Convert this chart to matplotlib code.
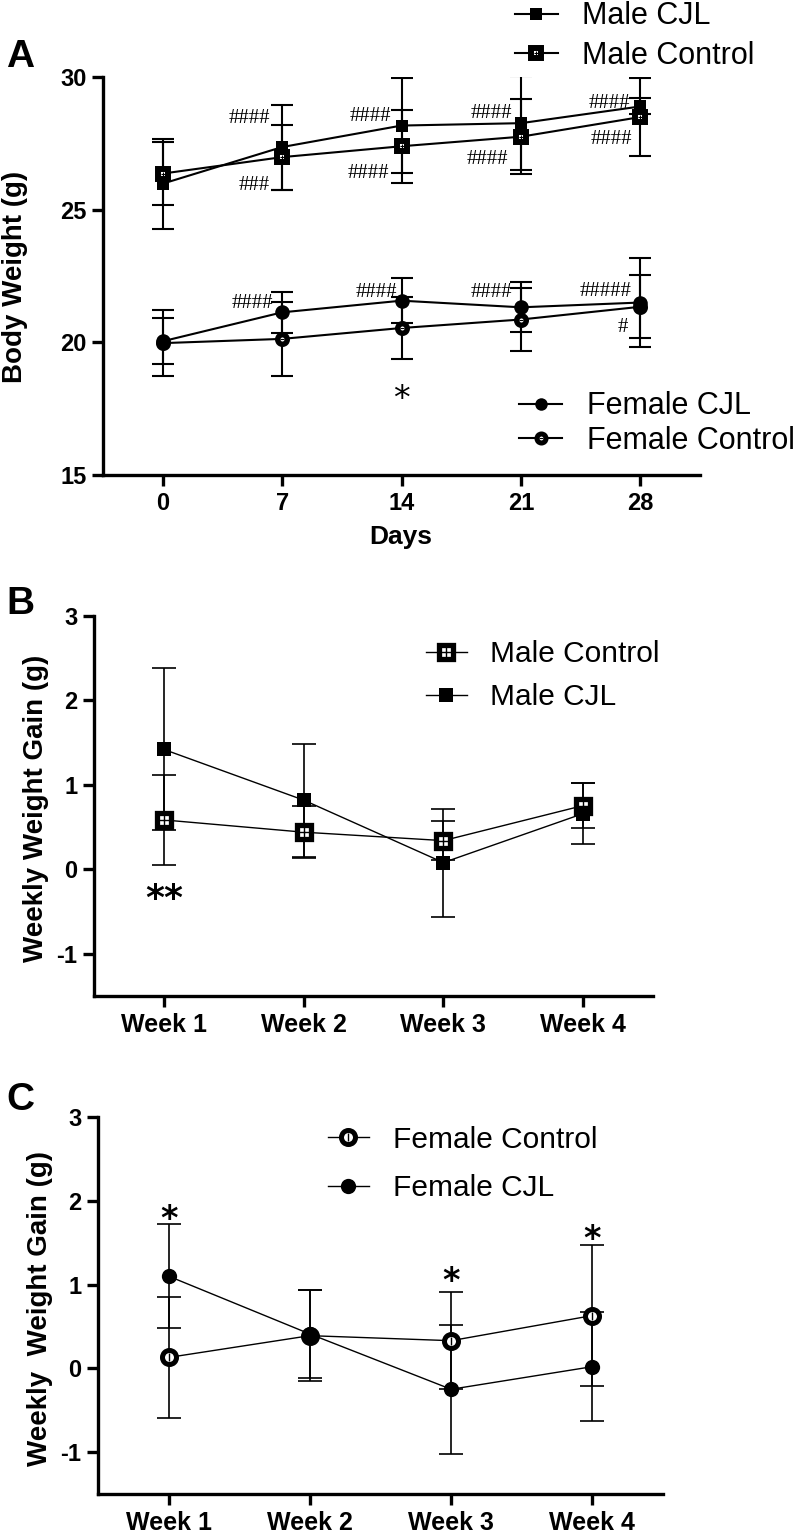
import matplotlib
matplotlib.use('Agg')
import matplotlib.pyplot as plt
from matplotlib.lines import Line2D
from matplotlib.legend_handler import HandlerTuple

plt.rcParams['font.family'] = ['Liberation Sans', 'DejaVu Sans']

W, H = 801, 1532

# ---------------- data ----------------
days = [0, 7, 14, 21, 28]
day_labels = ['0', '7', '14', '21', '28']

male_cjl = [25.98, 27.36, 28.17, 28.26, 28.89]
male_cjl_err = [1.70, 1.60, 1.79, 1.76, 0.30]
male_ctrl = [26.36, 26.98, 27.39, 27.75, 28.49]
male_ctrl_err = [1.20, 1.22, 1.37, 1.41, 1.47]
female_cjl = [20.04, 21.13, 21.57, 21.32, 21.50]
female_cjl_err = [0.86, 0.76, 0.86, 0.94, 1.68]
female_ctrl = [19.97, 20.13, 20.54, 20.86, 21.34]
female_ctrl_err = [1.25, 1.39, 1.17, 1.20, 1.18]

weeks = [1, 2, 3, 4]
week_labels = ['Week 1', 'Week 2', 'Week 3', 'Week 4']
male_ctrl_gain = [0.585, 0.44, 0.34, 0.755]
male_ctrl_gain_err = [0.53, 0.31, 0.23, 0.27]
male_cjl_gain = [1.42, 0.82, 0.08, 0.66]
male_cjl_gain_err = [0.96, 0.67, 0.64, 0.36]
female_ctrl_gain = [0.13, 0.39, 0.33, 0.63]
female_ctrl_gain_err = [0.72, 0.54, 0.58, 0.84]
female_cjl_gain = [1.10, 0.41, -0.25, 0.02]
female_cjl_gain_err = [0.62, 0.52, 0.77, 0.65]

# significance marks (x, y, text)
hash_marks_A = [(6.3, 28.55, '####'), (6.3, 26.0, '###'),
                (13.4, 28.59, '####'), (13.25, 26.47, '####'),
                (20.47, 28.74, '####'), (20.25, 26.98, '####'),
                (27.4, 29.1, '####'), (27.5, 27.73, '####'),
                (6.5, 21.57, '####'), (13.73, 21.96, '####'),
                (20.5, 21.96, '####'), (27.48, 22.0, '#####')]
single_hash_A = [(27.0, 20.67, '#')]
star_A = [(14, 18.2, '*')]
star_B = [(1, -0.22, '**')]
star_C = [(1, 1.89, '*'), (3, 1.15, '*'), (4, 1.65, '*')]

# ---------------- figure ----------------
fig = plt.figure(figsize=(W / 100, H / 100), dpi=100)


def px_axes(l, t, r, b):
    return fig.add_axes([l / W, 1 - b / H, (r - l) / W, (b - t) / H])


def style(ax):
    for s in ['top', 'right']:
        ax.spines[s].set_visible(False)
    for s in ['left', 'bottom']:
        ax.spines[s].set_linewidth(2.4)
    ax.tick_params(direction='out', length=8, width=2.4, pad=4)


def plot_series(ax, x, y, e, marker, ms, mfc, mew, lw, elw, cap, inner=None, inner_ms=0, inner_mew=0):
    ax.errorbar(x, y, yerr=e, fmt='none', ecolor='black', elinewidth=elw, capsize=cap,
                capthick=elw, zorder=2)
    ax.plot(x, y, color='black', lw=lw, marker=marker, ms=ms, mfc=mfc, mec='black',
            mew=mew, zorder=3)
    if inner is not None:
        ax.plot(x, y, linestyle='none', marker=inner, ms=inner_ms, mew=inner_mew,
                color='black', zorder=4)


def handle(marker, ms, mfc, mew, lw, inner=None, inner_ms=0, inner_mew=0):
    h = Line2D([], [], color='black', lw=lw, marker=marker, ms=ms, mfc=mfc,
               mec='black', mew=mew)
    if inner is None:
        return h
    h2 = Line2D([], [], linestyle='none', marker=inner, ms=inner_ms, mew=inner_mew,
                color='black')
    return (h, h2)


def mark(ax, x, y, txt, fs, family, weight, ha, frac):
    ax.annotate(txt, (x, y), xytext=(0, -frac * fs), textcoords='offset points',
                ha=ha, va='baseline', fontsize=fs, family=family, fontweight=weight,
                zorder=5)


# ---------------- Panel A ----------------
axA = px_axes(103, 77, 700, 475)
style(axA)
plot_series(axA, days, male_ctrl, male_ctrl_err, 's', 7.9, 'white', 4.3, 1.5, 1.5, 8,
            '+', 3.6, 0.8)
plot_series(axA, days, male_cjl, male_cjl_err, 's', 8.6, 'black', 0, 1.5, 1.5, 8)
plot_series(axA, days, female_ctrl, female_ctrl_err, 'o', 6.9, 'white', 3.9, 1.5, 1.5, 8,
            '_', 3.0, 0.8)
plot_series(axA, days, female_cjl, female_cjl_err, 'o', 10.5, 'black', 0, 1.5, 1.5, 8)
axA.set_xlim(-3.5, 31.5)
axA.set_ylim(15, 30)
axA.set_xticks(days, day_labels, fontsize=17, fontweight='bold')
axA.set_yticks([15, 20, 25, 30], ['15', '20', '25', '30'], fontsize=17, fontweight='bold')
for x, y, t in hash_marks_A:
    mark(axA, x, y, t, 15, 'Liberation Serif', 'normal', 'right', 0.34)
for x, y, t in single_hash_A:
    mark(axA, x, y, t, 15, 'Liberation Serif', 'normal', 'center', 0.34)
for x, y, t in star_A:
    mark(axA, x, y, t, 24, 'DejaVu Sans', 'normal', 'center', 0.575)

fig.text(15 / W, 1 - 277 / H, 'Body Weight (g)', rotation=90, ha='center', va='center',
         fontsize=20, fontweight='bold')
fig.text(401 / W, 1 - 537 / H, 'Days', ha='center', va='center', fontsize=19,
         fontweight='bold')
fig.text(20 / W, 1 - 57 / H, 'A', ha='center', va='center', fontsize=28, fontweight='bold')

fig.legend([handle('s', 8.6, 'black', 0, 1.5),
            handle('s', 7.9, 'white', 4.3, 1.5, '+', 3.6, 0.8)],
           ['Male CJL', 'Male Control'],
           handler_map={tuple: HandlerTuple(ndivide=1)},
           loc='center left', bbox_to_anchor=(515 / W, 1 - 36 / H),
           frameon=False, borderpad=0, borderaxespad=0, handlelength=1.4,
           handletextpad=0.8, labelspacing=0.3, fontsize=22)
fig.legend([handle('o', 9.0, 'black', 0, 1.5),
            handle('o', 6.5, 'white', 3.6, 1.5, '_', 2.6, 0.8)],
           ['Female CJL', 'Female Control'],
           handler_map={tuple: HandlerTuple(ndivide=1)},
           loc='center left', bbox_to_anchor=(519 / W, 1 - 423.5 / H),
           frameon=False, borderpad=0, borderaxespad=0, handlelength=1.42,
           handletextpad=0.8, labelspacing=0.14, fontsize=22)

# ---------------- Panel B ----------------
axB = px_axes(94, 616, 653, 996)
style(axB)
plot_series(axB, weeks, male_ctrl_gain, male_ctrl_gain_err, 's', 10.2, 'white', 3.8, 1.0, 1.2, 8.5,
            '+', 6.5, 1.0)
plot_series(axB, weeks, male_cjl_gain, male_cjl_gain_err, 's', 10, 'black', 0, 1.0, 1.2, 8.5)
axB.set_xlim(0.5, 4.5)
axB.set_ylim(-1.5, 3)
axB.set_xticks(weeks, week_labels, fontsize=18, fontweight='bold')
axB.set_yticks([-1, 0, 1, 2, 3], ['-1', '0', '1', '2', '3'], fontsize=17, fontweight='bold')
for x, y, t in star_B:
    mark(axB, x, y, t, 26, 'DejaVu Sans', 'bold', 'center', 0.575)
fig.text(36 / W, 1 - 808 / H, 'Weekly Weight Gain (g)', rotation=90, ha='center',
         va='center', fontsize=20, fontweight='bold')
fig.text(20 / W, 1 - 604 / H, 'B', ha='center', va='center', fontsize=28, fontweight='bold')
fig.legend([handle('s', 10.2, 'white', 3.8, 1.0, '+', 6.5, 1.0),
            handle('s', 10, 'black', 0, 1.0)],
           ['Male Control', 'Male CJL'],
           handler_map={tuple: HandlerTuple(ndivide=1)},
           loc='center left', bbox_to_anchor=(426 / W, 1 - 675.5 / H),
           frameon=False, borderpad=0, borderaxespad=0, handlelength=1.37,
           handletextpad=0.77, labelspacing=0.5, fontsize=21.5)

# ---------------- Panel C ----------------
axC = px_axes(98, 1117, 663, 1494)
style(axC)
plot_series(axC, weeks, female_ctrl_gain, female_ctrl_gain_err, 'o', 10.1, 'white', 3.6, 1.0, 1.2, 8.5,
            '|', 6.0, 1.0)
plot_series(axC, weeks, female_cjl_gain, female_cjl_gain_err, 'o', 11, 'black', 0, 1.0, 1.2, 8.5)
axC.set_xlim(0.5, 4.5)
axC.set_ylim(-1.5, 3)
axC.set_xticks(weeks, week_labels, fontsize=18, fontweight='bold')
axC.set_yticks([-1, 0, 1, 2, 3], ['-1', '0', '1', '2', '3'], fontsize=17, fontweight='bold')
for x, y, t in star_C:
    mark(axC, x, y, t, 24, 'DejaVu Sans', 'bold', 'center', 0.575)
fig.text(40 / W, 1 - 1309 / H, 'Weekly  Weight Gain (g)', rotation=90, ha='center',
         va='center', fontsize=20, fontweight='bold')
fig.text(20 / W, 1 - 1100 / H, 'C', ha='center', va='center', fontsize=28, fontweight='bold')
fig.legend([handle('o', 10.1, 'white', 3.6, 1.0, '|', 6.0, 1.0),
            handle('o', 11, 'black', 0, 1.0)],
           ['Female Control', 'Female CJL'],
           handler_map={tuple: HandlerTuple(ndivide=1)},
           loc='center left', bbox_to_anchor=(328 / W, 1 - 1164 / H),
           frameon=False, borderpad=0, borderaxespad=0, handlelength=1.37,
           handletextpad=0.8, labelspacing=0.7, fontsize=21.5)

fig.savefig('out.png', dpi=100)
